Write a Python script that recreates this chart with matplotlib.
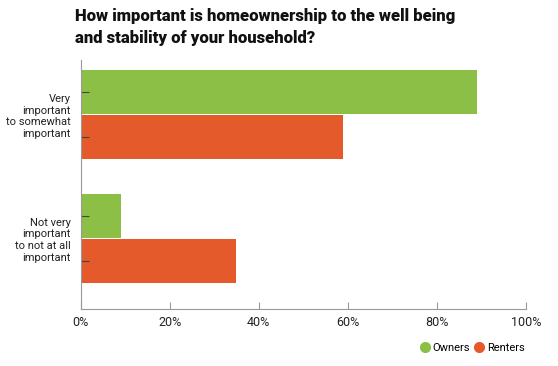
import matplotlib
matplotlib.use('Agg')
import matplotlib.pyplot as plt
from matplotlib.lines import Line2D
import numpy as np

# Data
categories = ['Very\nimportant\nto somewhat\nimportant', 'Not very\nimportant\nto not at all\nimportant']
owners = [89, 9]
renters = [59, 35]
series_names = ['Owners', 'Renters']
colors = ['#8bbf45', '#e55a2b']
x_ticks = [0, 20, 40, 60, 80, 100]

plt.rcParams['font.family'] = ['Roboto', 'DejaVu Sans']

fig = plt.figure(figsize=(5.58, 3.66), dpi=100)
ax = fig.add_axes([80.5 / 558, 57 / 366, 445.5 / 558, 249 / 366])

pos = np.arange(len(categories))
h = 0.355
off = 0.183
ax.barh(pos - off, owners, height=h, color=colors[0])
ax.barh(pos + off, renters, height=h, color=colors[1])

ax.set_xlim(0, 100)
ax.set_ylim(1.569, -0.44)

# x axis
ax.set_xticks(x_ticks)
ax.set_xticklabels([f'{t}%' for t in x_ticks], fontsize=9, color='#222222')
ax.tick_params(axis='x', direction='in', length=5, color='#999999', pad=5)

# y axis: labels at group centres, small marks at bar centres
ax.set_yticks(pos)
ax.set_yticklabels(categories, fontsize=8, color='#222222', ha='right', linespacing=1.2)
ax.tick_params(axis='y', which='major', length=0, pad=7)
ax.set_yticks(np.concatenate([pos - off, pos + off]), minor=True)
ax.tick_params(axis='y', which='minor', direction='in', length=6, width=0.8, color='#444444')

for s in ['top', 'right']:
    ax.spines[s].set_visible(False)
for s in ['left', 'bottom']:
    ax.spines[s].set_color('#999999')
    ax.spines[s].set_linewidth(0.8)

fig.text(75 / 558, 1 - 8 / 366,
         'How important is homeownership to the well being\nand stability of your household?',
         fontsize=12, fontweight='heavy', color='#111111', ha='left', va='top',
         linespacing=1.5)

handles = [Line2D([], [], marker='o', linestyle='', color=c, markersize=7) for c in colors]
fig.legend(handles, series_names, loc='center right', bbox_to_anchor=(530 / 558, 1 - 348 / 366),
           ncol=2, frameon=False, fontsize=8, handlelength=0.7,
           handletextpad=0.3, columnspacing=0.5, borderpad=0)

fig.savefig('out.png', dpi=100)
